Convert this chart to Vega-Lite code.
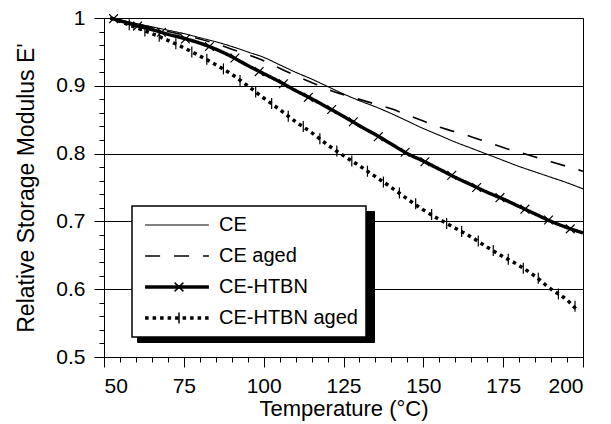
{
  "$schema": "https://vega.github.io/schema/vega-lite/v6.json",
  "width": 479,
  "height": 339,
  "autosize": {"type": "none"},
  "padding": {"left": 104, "top": 18, "right": 28, "bottom": 67},
  "background": "white",
  "config": {
    "view": {"stroke": "black", "strokeWidth": 1},
    "font": "Liberation Sans",
    "axis": {
      "domainColor": "black", "tickColor": "black", "labelColor": "black", "titleColor": "black",
      "labelFont": "Liberation Sans", "titleFont": "Liberation Sans",
      "labelFontSize": 21, "titleFontSize": 22, "titleFontWeight": "normal",
      "gridColor": "black", "gridOpacity": 1, "gridWidth": 1, "domainWidth": 1, "tickWidth": 1
    },
    "legend": {
      "labelFont": "Liberation Sans", "labelFontSize": 20, "labelColor": "black",
      "symbolSize": 484, "symbolStrokeWidth": 1.5, "padding": 8, "rowPadding": 9, "clipHeight": 22,
      "symbolOffset": 27, "labelOffset": 32, "orient": "none", "title": null
    }
  },
  "datasets": {
    "curves": [
      {"series": "CE", "T": 52, "E": 1.0}, {"series": "CE", "T": 55, "E": 0.997}, {"series": "CE", "T": 60, "E": 0.992},
      {"series": "CE", "T": 65, "E": 0.987}, {"series": "CE", "T": 70, "E": 0.982}, {"series": "CE", "T": 75, "E": 0.977},
      {"series": "CE", "T": 80, "E": 0.971}, {"series": "CE", "T": 85, "E": 0.965}, {"series": "CE", "T": 90, "E": 0.958},
      {"series": "CE", "T": 95, "E": 0.950}, {"series": "CE", "T": 100, "E": 0.942}, {"series": "CE", "T": 105, "E": 0.931},
      {"series": "CE", "T": 110, "E": 0.920}, {"series": "CE", "T": 115, "E": 0.910}, {"series": "CE", "T": 120, "E": 0.899},
      {"series": "CE", "T": 125, "E": 0.888}, {"series": "CE", "T": 130, "E": 0.878}, {"series": "CE", "T": 135, "E": 0.869},
      {"series": "CE", "T": 140, "E": 0.859}, {"series": "CE", "T": 145, "E": 0.848}, {"series": "CE", "T": 150, "E": 0.837},
      {"series": "CE", "T": 155, "E": 0.827}, {"series": "CE", "T": 160, "E": 0.817}, {"series": "CE", "T": 165, "E": 0.808},
      {"series": "CE", "T": 170, "E": 0.799}, {"series": "CE", "T": 175, "E": 0.790}, {"series": "CE", "T": 180, "E": 0.781},
      {"series": "CE", "T": 185, "E": 0.773}, {"series": "CE", "T": 190, "E": 0.765}, {"series": "CE", "T": 195, "E": 0.757},
      {"series": "CE", "T": 200, "E": 0.748},
      {"series": "CE aged", "T": 52, "E": 1.0}, {"series": "CE aged", "T": 55, "E": 0.996}, {"series": "CE aged", "T": 60, "E": 0.991},
      {"series": "CE aged", "T": 65, "E": 0.986}, {"series": "CE aged", "T": 70, "E": 0.980}, {"series": "CE aged", "T": 75, "E": 0.975},
      {"series": "CE aged", "T": 80, "E": 0.969}, {"series": "CE aged", "T": 85, "E": 0.962}, {"series": "CE aged", "T": 90, "E": 0.954},
      {"series": "CE aged", "T": 95, "E": 0.946}, {"series": "CE aged", "T": 100, "E": 0.937}, {"series": "CE aged", "T": 105, "E": 0.926},
      {"series": "CE aged", "T": 110, "E": 0.915}, {"series": "CE aged", "T": 115, "E": 0.905}, {"series": "CE aged", "T": 120, "E": 0.895},
      {"series": "CE aged", "T": 125, "E": 0.887}, {"series": "CE aged", "T": 130, "E": 0.880}, {"series": "CE aged", "T": 135, "E": 0.873},
      {"series": "CE aged", "T": 140, "E": 0.866}, {"series": "CE aged", "T": 145, "E": 0.857}, {"series": "CE aged", "T": 150, "E": 0.848},
      {"series": "CE aged", "T": 155, "E": 0.839}, {"series": "CE aged", "T": 160, "E": 0.832}, {"series": "CE aged", "T": 165, "E": 0.825},
      {"series": "CE aged", "T": 170, "E": 0.817}, {"series": "CE aged", "T": 175, "E": 0.809}, {"series": "CE aged", "T": 180, "E": 0.802},
      {"series": "CE aged", "T": 185, "E": 0.795}, {"series": "CE aged", "T": 190, "E": 0.788}, {"series": "CE aged", "T": 195, "E": 0.781},
      {"series": "CE aged", "T": 200, "E": 0.774},
      {"series": "CE-HTBN", "T": 52, "E": 1.0}, {"series": "CE-HTBN", "T": 55, "E": 0.996}, {"series": "CE-HTBN", "T": 60, "E": 0.989},
      {"series": "CE-HTBN", "T": 65, "E": 0.983}, {"series": "CE-HTBN", "T": 70, "E": 0.976}, {"series": "CE-HTBN", "T": 75, "E": 0.970},
      {"series": "CE-HTBN", "T": 80, "E": 0.963}, {"series": "CE-HTBN", "T": 85, "E": 0.954}, {"series": "CE-HTBN", "T": 90, "E": 0.943},
      {"series": "CE-HTBN", "T": 95, "E": 0.930}, {"series": "CE-HTBN", "T": 100, "E": 0.918}, {"series": "CE-HTBN", "T": 105, "E": 0.906},
      {"series": "CE-HTBN", "T": 110, "E": 0.893}, {"series": "CE-HTBN", "T": 115, "E": 0.881}, {"series": "CE-HTBN", "T": 120, "E": 0.868},
      {"series": "CE-HTBN", "T": 125, "E": 0.855}, {"series": "CE-HTBN", "T": 130, "E": 0.841}, {"series": "CE-HTBN", "T": 135, "E": 0.828},
      {"series": "CE-HTBN", "T": 140, "E": 0.814}, {"series": "CE-HTBN", "T": 145, "E": 0.800}, {"series": "CE-HTBN", "T": 150, "E": 0.789},
      {"series": "CE-HTBN", "T": 155, "E": 0.777}, {"series": "CE-HTBN", "T": 160, "E": 0.765}, {"series": "CE-HTBN", "T": 165, "E": 0.754},
      {"series": "CE-HTBN", "T": 170, "E": 0.743}, {"series": "CE-HTBN", "T": 175, "E": 0.733}, {"series": "CE-HTBN", "T": 180, "E": 0.722},
      {"series": "CE-HTBN", "T": 185, "E": 0.711}, {"series": "CE-HTBN", "T": 190, "E": 0.700}, {"series": "CE-HTBN", "T": 195, "E": 0.691},
      {"series": "CE-HTBN", "T": 200, "E": 0.683},
      {"series": "CE-HTBN aged", "T": 52, "E": 1.0}, {"series": "CE-HTBN aged", "T": 55, "E": 0.995}, {"series": "CE-HTBN aged", "T": 60, "E": 0.986},
      {"series": "CE-HTBN aged", "T": 65, "E": 0.977}, {"series": "CE-HTBN aged", "T": 70, "E": 0.967}, {"series": "CE-HTBN aged", "T": 75, "E": 0.956},
      {"series": "CE-HTBN aged", "T": 80, "E": 0.944}, {"series": "CE-HTBN aged", "T": 85, "E": 0.931}, {"series": "CE-HTBN aged", "T": 90, "E": 0.917},
      {"series": "CE-HTBN aged", "T": 95, "E": 0.900}, {"series": "CE-HTBN aged", "T": 100, "E": 0.882}, {"series": "CE-HTBN aged", "T": 105, "E": 0.865},
      {"series": "CE-HTBN aged", "T": 110, "E": 0.847}, {"series": "CE-HTBN aged", "T": 115, "E": 0.831}, {"series": "CE-HTBN aged", "T": 120, "E": 0.813},
      {"series": "CE-HTBN aged", "T": 125, "E": 0.797}, {"series": "CE-HTBN aged", "T": 130, "E": 0.782}, {"series": "CE-HTBN aged", "T": 135, "E": 0.766},
      {"series": "CE-HTBN aged", "T": 140, "E": 0.750}, {"series": "CE-HTBN aged", "T": 145, "E": 0.733}, {"series": "CE-HTBN aged", "T": 150, "E": 0.717},
      {"series": "CE-HTBN aged", "T": 155, "E": 0.703}, {"series": "CE-HTBN aged", "T": 160, "E": 0.690}, {"series": "CE-HTBN aged", "T": 165, "E": 0.677},
      {"series": "CE-HTBN aged", "T": 170, "E": 0.662}, {"series": "CE-HTBN aged", "T": 175, "E": 0.648}, {"series": "CE-HTBN aged", "T": 180, "E": 0.635},
      {"series": "CE-HTBN aged", "T": 185, "E": 0.619}, {"series": "CE-HTBN aged", "T": 190, "E": 0.600}, {"series": "CE-HTBN aged", "T": 195, "E": 0.584},
      {"series": "CE-HTBN aged", "T": 198, "E": 0.570}
    ],
    "markers": [
      {"series": "CE-HTBN", "T": 53, "E": 0.999}, {"series": "CE-HTBN", "T": 60.5, "E": 0.988}, {"series": "CE-HTBN", "T": 68, "E": 0.979},
      {"series": "CE-HTBN", "T": 75.5, "E": 0.969}, {"series": "CE-HTBN", "T": 83, "E": 0.958}, {"series": "CE-HTBN", "T": 91, "E": 0.941},
      {"series": "CE-HTBN", "T": 98.6, "E": 0.921}, {"series": "CE-HTBN", "T": 106.2, "E": 0.903}, {"series": "CE-HTBN", "T": 114, "E": 0.883},
      {"series": "CE-HTBN", "T": 121.3, "E": 0.865}, {"series": "CE-HTBN", "T": 128.1, "E": 0.847}, {"series": "CE-HTBN", "T": 135.9, "E": 0.825},
      {"series": "CE-HTBN", "T": 144.3, "E": 0.802}, {"series": "CE-HTBN", "T": 150.5, "E": 0.788}, {"series": "CE-HTBN", "T": 158.9, "E": 0.768},
      {"series": "CE-HTBN", "T": 166.7, "E": 0.750}, {"series": "CE-HTBN", "T": 174, "E": 0.735}, {"series": "CE-HTBN", "T": 181.8, "E": 0.718},
      {"series": "CE-HTBN", "T": 189.2, "E": 0.702}, {"series": "CE-HTBN", "T": 196, "E": 0.689},
      {"series": "CE-HTBN aged", "T": 57.9, "E": 0.990}, {"series": "CE-HTBN aged", "T": 62.8, "E": 0.981}, {"series": "CE-HTBN aged", "T": 67.3, "E": 0.973},
      {"series": "CE-HTBN aged", "T": 72.5, "E": 0.962}, {"series": "CE-HTBN aged", "T": 77.5, "E": 0.950}, {"series": "CE-HTBN aged", "T": 82.2, "E": 0.939},
      {"series": "CE-HTBN aged", "T": 87.4, "E": 0.925}, {"series": "CE-HTBN aged", "T": 92.6, "E": 0.908}, {"series": "CE-HTBN aged", "T": 97.5, "E": 0.891},
      {"series": "CE-HTBN aged", "T": 102.5, "E": 0.874}, {"series": "CE-HTBN aged", "T": 107.7, "E": 0.855}, {"series": "CE-HTBN aged", "T": 112.4, "E": 0.840},
      {"series": "CE-HTBN aged", "T": 117.6, "E": 0.822}, {"series": "CE-HTBN aged", "T": 122.9, "E": 0.804}, {"series": "CE-HTBN aged", "T": 127.6, "E": 0.789},
      {"series": "CE-HTBN aged", "T": 132.5, "E": 0.774}, {"series": "CE-HTBN aged", "T": 137.5, "E": 0.758}, {"series": "CE-HTBN aged", "T": 142.5, "E": 0.742},
      {"series": "CE-HTBN aged", "T": 147.6, "E": 0.726}, {"series": "CE-HTBN aged", "T": 152.6, "E": 0.710}, {"series": "CE-HTBN aged", "T": 157.3, "E": 0.697},
      {"series": "CE-HTBN aged", "T": 162, "E": 0.685}, {"series": "CE-HTBN aged", "T": 167.2, "E": 0.671}, {"series": "CE-HTBN aged", "T": 171.9, "E": 0.657},
      {"series": "CE-HTBN aged", "T": 176.6, "E": 0.644}, {"series": "CE-HTBN aged", "T": 181.3, "E": 0.631}, {"series": "CE-HTBN aged", "T": 186, "E": 0.616},
      {"series": "CE-HTBN aged", "T": 192.3, "E": 0.593}, {"series": "CE-HTBN aged", "T": 197.5, "E": 0.575}
    ]
  },
  "resolve": {"axis": {"x": "independent", "y": "independent"}},
  "layer": [
    {
      "data": {"name": "curves"},
      "mark": {"type": "line", "interpolate": "monotone"},
      "encoding": {
        "x": {
          "field": "T", "type": "quantitative",
          "scale": {"domain": [50, 200], "nice": false},
          "axis": {"orient": "bottom", "values": [50, 75, 100, 125, 150, 175, 200], "tickSize": 10, "labelPadding": 8, "grid": false, "title": "Temperature (°C)", "titlePadding": 2}
        },
        "y": {
          "field": "E", "type": "quantitative",
          "scale": {"domain": [0.5, 1], "nice": false, "zero": false},
          "axis": {"orient": "left", "values": [0.5, 0.6, 0.7, 0.8, 0.9, 1], "format": ".1~f", "tickSize": 10, "labelPadding": 9, "grid": true, "title": "Relative Storage Modulus E'", "titleFontSize": 23, "titlePadding": 17}
        },
        "color": {
          "field": "series", "type": "nominal",
          "scale": {"range": ["black", "black", "black", "black"]},
          "legend": {"legendX": 33, "legendY": 193, "fillColor": "black", "strokeColor": "black", "zindex": 1, "symbolType": "M-1,0H1", "symbolSize": 48180, "symbolOffset": 0, "labelExpr": "''", "labelOffset": 0, "symbolStrokeColor": "black"}
        },
        "strokeDash": {
          "field": "series", "type": "nominal",
          "scale": {"domain": ["CE", "CE aged", "CE-HTBN", "CE-HTBN aged"], "range": [[1, 0], [15, 14], [1, 0], [3.5, 4]]},
          "legend": {
            "legendX": 28, "legendY": 188, "fillColor": "white", "strokeColor": "black", "zindex": 2,
            "symbolType": "M-2.9,0H2.9", "symbolStrokeColor": "black",
            "encode": {
              "legend": {"update": {"strokeWidth": {"value": 1.5}}},
              "symbols": {"update": {"strokeWidth": {"signal": "datum.value === 'CE-HTBN' || datum.value === 'CE-HTBN aged' ? 3.5 : (datum.value === 'CE aged' ? 1.6 : 1.2)"}}}
            }
          }
        },
        "strokeWidth": {
          "condition": [
            {"test": "datum.series === 'CE-HTBN' || datum.series === 'CE-HTBN aged'", "value": 3.5},
            {"test": "datum.series === 'CE aged'", "value": 1.6}
          ],
          "value": 1.1
        }
      }
    },
    {
      "data": {"name": "markers"},
      "mark": {"type": "point", "filled": false, "size": 484, "stroke": "black", "strokeWidth": 1.2, "opacity": 1},
      "encoding": {
        "x": {
          "field": "T", "type": "quantitative",
          "axis": {"orient": "bottom", "values": [55, 60, 65, 70, 80, 85, 90, 95, 105, 110, 115, 120, 130, 135, 140, 145, 155, 160, 165, 170, 180, 185, 190, 195], "tickSize": 5, "labels": false, "domain": false, "grid": false, "title": null}
        },
        "y": {
          "field": "E", "type": "quantitative",
          "axis": {"orient": "left", "values": [0.52, 0.54, 0.56, 0.58, 0.62, 0.64, 0.66, 0.68, 0.72, 0.74, 0.76, 0.78, 0.82, 0.84, 0.86, 0.88, 0.92, 0.94, 0.96, 0.98], "tickSize": 5, "labels": false, "domain": false, "grid": false, "title": null}
        },
        "shape": {
          "field": "series", "type": "nominal",
          "scale": {"range": ["M-0.4,-0.4L0.4,0.4M-0.4,0.4L0.4,-0.4", "M0,-0.5L0,0.5"]},
          "legend": {
            "legendX": 28, "legendY": 250, "zindex": 3, "labelExpr": "''",
            "symbolStrokeColor": "black", "symbolFillColor": "transparent",
            "encode": {"symbols": {"update": {"strokeWidth": {"value": 1.2}}}}
          }
        }
      }
    }
  ]
}
